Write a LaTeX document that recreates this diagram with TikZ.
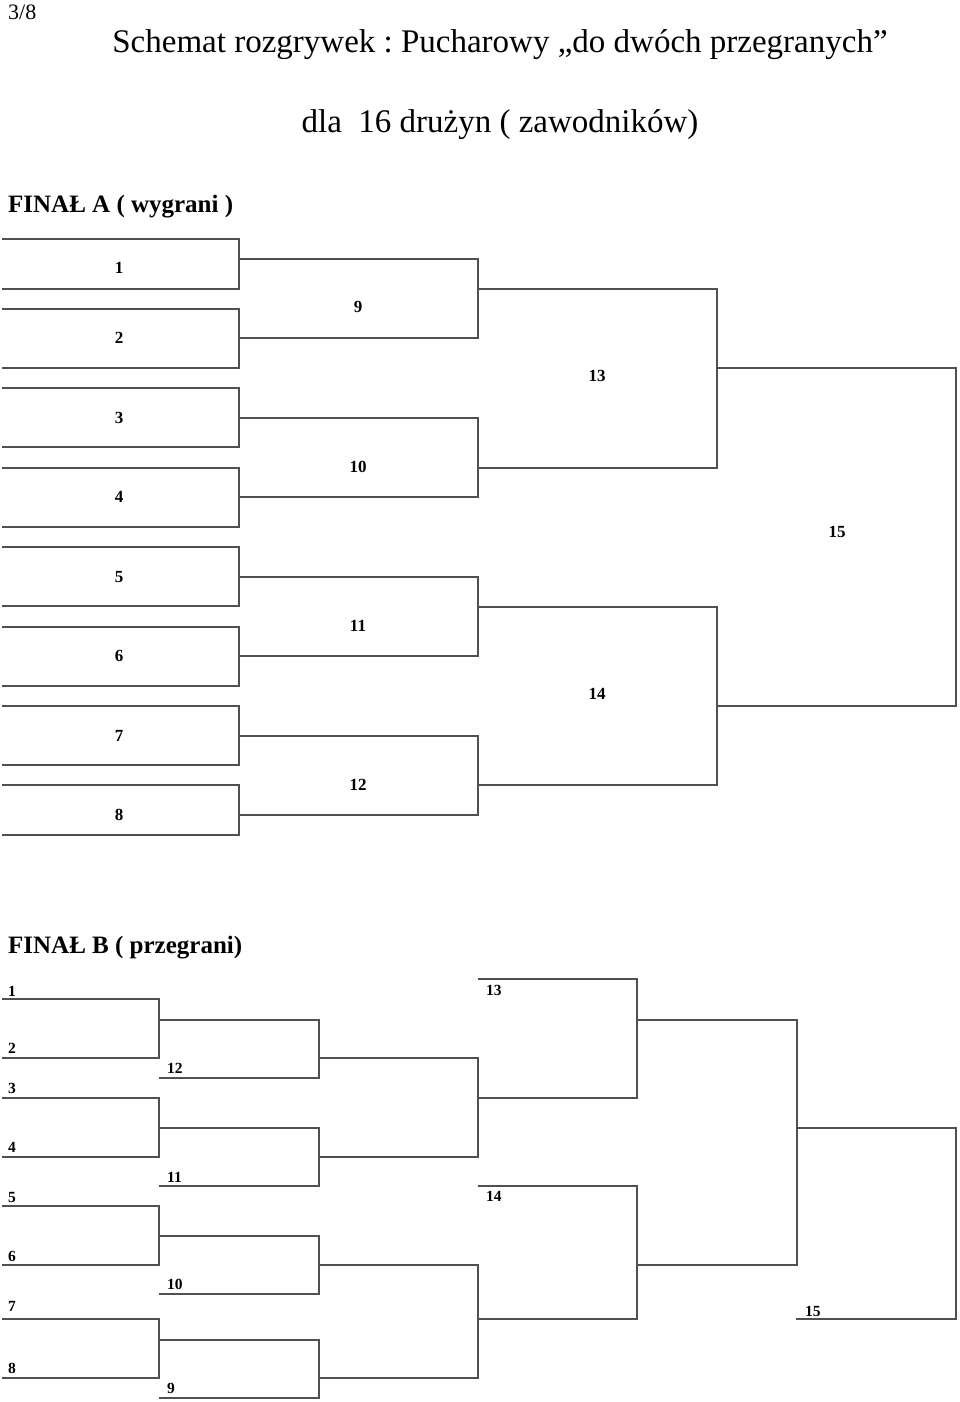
\documentclass[tikz,border=0pt]{standalone}
\usepackage{fontspec}
\setmainfont{Liberation Serif}
\frenchspacing
\begin{document}
\begin{tikzpicture}[x=1pt,y=-1pt,
  br/.style={draw={rgb,255:red,80;green,80;blue,80},line width=1.2pt,line join=miter},
  numa/.style={font=\fontsize{17}{17}\selectfont\bfseries,inner sep=0pt,anchor=center},
  numb/.style={font=\fontsize{15.5}{15.5}\selectfont\bfseries,inner sep=0pt,anchor=base west},
  head/.style={font=\fontsize{25}{25}\selectfont\bfseries,inner sep=0pt,anchor=base west},
  ttl/.style={font=\fontsize{33}{33}\selectfont\frenchspacing,inner sep=0pt,anchor=base}]
\useasboundingbox (0,0) rectangle (960,1402);
% headings
\node[font=\fontsize{22}{22}\selectfont,inner sep=0pt,anchor=base west] (pg) at (8,20) {3/8};
\node[ttl] (t1) at (500,53) {Schemat rozgrywek : Pucharowy „do dwóch przegranych”};
\node[ttl] (t2) at (500,132) {dla\ \ 16 drużyn ( zawodników)};
\node[head] (ha) at (8,212) {FINAŁ A ( wygrani )};
\node[head] (hb) at (8,953) {FINAŁ B ( przegrani)};
% ---------- FINAL A ----------
\foreach \t/\b in {239/289,309/368,388/447,468/527,547/606,627/686,706/765,785/835}
  \draw[br] (2,\t) -- (239,\t) -- (239,\b) -- (2,\b);
\foreach \t/\b in {259/338,418/497,577/656,736/815}
  \draw[br] (239,\t) -- (478,\t) -- (478,\b) -- (239,\b);
\foreach \t/\b in {289/468,607/785}
  \draw[br] (478,\t) -- (717,\t) -- (717,\b) -- (478,\b);
\draw[br] (717,368) -- (956,368) -- (956,706) -- (717,706);
\foreach \n/\y in {1/268,2/338,3/418,4/497,5/577,6/656,7/736,8/815}
  \node[numa] (a\n) at (119,\y) {\n};
\foreach \n/\y in {9/307,10/467,11/626,12/785}
  \node[numa] (a\n) at (358,\y) {\n};
\node[numa] (a13) at (597,376) {13};
\node[numa] (a14) at (597,694) {14};
\node[numa] (a15) at (837,532) {15};
% ---------- FINAL B ----------
\foreach \t/\b in {999/1058,1098/1157,1206/1265,1319/1378}
  \draw[br] (2,\t) -- (159,\t) -- (159,\b) -- (2,\b);
\foreach \t/\b in {1020/1078,1128/1186,1236/1294,1340/1398}
  \draw[br] (159,\t) -- (319,\t) -- (319,\b) -- (159,\b);
\foreach \t/\b in {1058/1157,1265/1378}
  \draw[br] (319,\t) -- (478,\t) -- (478,\b) -- (319,\b);
\foreach \t/\b in {979/1098,1186/1319}
  \draw[br] (478,\t) -- (637,\t) -- (637,\b) -- (478,\b);
\draw[br] (637,1020) -- (797,1020) -- (797,1265) -- (637,1265);
\draw[br] (797,1128) -- (956,1128) -- (956,1319) -- (796,1319);
\foreach \n/\y in {1/996,2/1053,3/1093,4/1152,5/1202,6/1261,7/1311,8/1373}
  \node[numb] (b\n) at (8,\y) {\n};
\foreach \n/\y in {12/1073,11/1182,10/1289,9/1393}
  \node[numb] (b\n) at (167,\y) {\n};
\node[numb] (b13) at (486,995) {13};
\node[numb] (b14) at (486,1201) {14};
\node[numb] (b15) at (805,1316) {15};
\end{tikzpicture}
\end{document}
